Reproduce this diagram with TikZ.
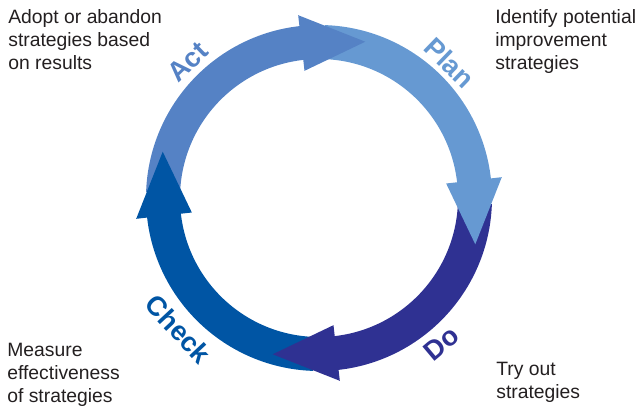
\documentclass[tikz,border=0pt]{standalone}
\usepackage{fontspec}
\setmainfont{Liberation Sans}

\definecolor{planblue}{HTML}{6699D2}
\definecolor{actblue}{HTML}{5582C5}
\definecolor{doblue}{HTML}{2F3192}
\definecolor{checkblue}{HTML}{0055A4}
\definecolor{notegray}{HTML}{231F20}

\tikzset{
  note/.style={anchor=north west, inner sep=0pt, align=left, text=notegray,
    font=\fontsize{11}{13}\selectfont},
  phase/.style={inner sep=0pt, font=\fontsize{15.5}{15.5}\selectfont\bfseries}
}

\begin{document}
\begin{tikzpicture}[x=0.02cm,y=0.02cm]
\useasboundingbox (-319,-208) rectangle (321,198);

% ring segments (outer radius 173, inner radius 139)
\fill[planblue] (88:173) arc[start angle=88,end angle=5,radius=173] -- (5:139) arc[start angle=5,end angle=88,radius=139] -- cycle;
\fill[doblue] (-2:173) arc[start angle=-2,end angle=-85,radius=173] -- (-85:139) arc[start angle=-85,end angle=-2,radius=139] -- cycle;
\fill[checkblue] (-92:173) arc[start angle=-92,end angle=-175,radius=173] -- (-175:139) arc[start angle=-175,end angle=-92,radius=139] -- cycle;
\fill[actblue] (-182:173) arc[start angle=-182,end angle=-265,radius=173] -- (-265:139) arc[start angle=-265,end angle=-182,radius=139] -- cycle;

% heads lie on top of the next segment
\fill[planblue] (6.5:184) -- (-16.5:163) -- (6.5:128) -- cycle;
\fill[doblue] (-83.5:184) -- (-106.5:163) -- (-83.5:128) -- cycle;
\fill[checkblue] (-173.5:184) -- (-196.5:163) -- (-173.5:128) -- cycle;
\fill[actblue] (-263.5:184) -- (-286.5:163) -- (-263.5:128) -- cycle;

% phase names
\node[phase, text=planblue, rotate=-44] (plan) at (46:188) {Plan};
\node[phase, text=doblue, rotate=40] (do) at (-50:190) {Do};
\node[phase, text=checkblue, rotate=-47] (check) at (223:192) {Check};
\node[phase, text=actblue, rotate=44] (act) at (134:189) {Act};

% what each phase means
\node[note] (plannote) at (176,188.5) {Identify potential\\improvement\\strategies};
\node[note] (donote) at (177,-164) {Try out\\strategies};
\node[note] (checknote) at (-312,-145) {Measure\\effectiveness\\of strategies};
\node[note] (actnote) at (-311,188.5) {Adopt or abandon\\strategies based\\on results};
\end{tikzpicture}
\end{document}
